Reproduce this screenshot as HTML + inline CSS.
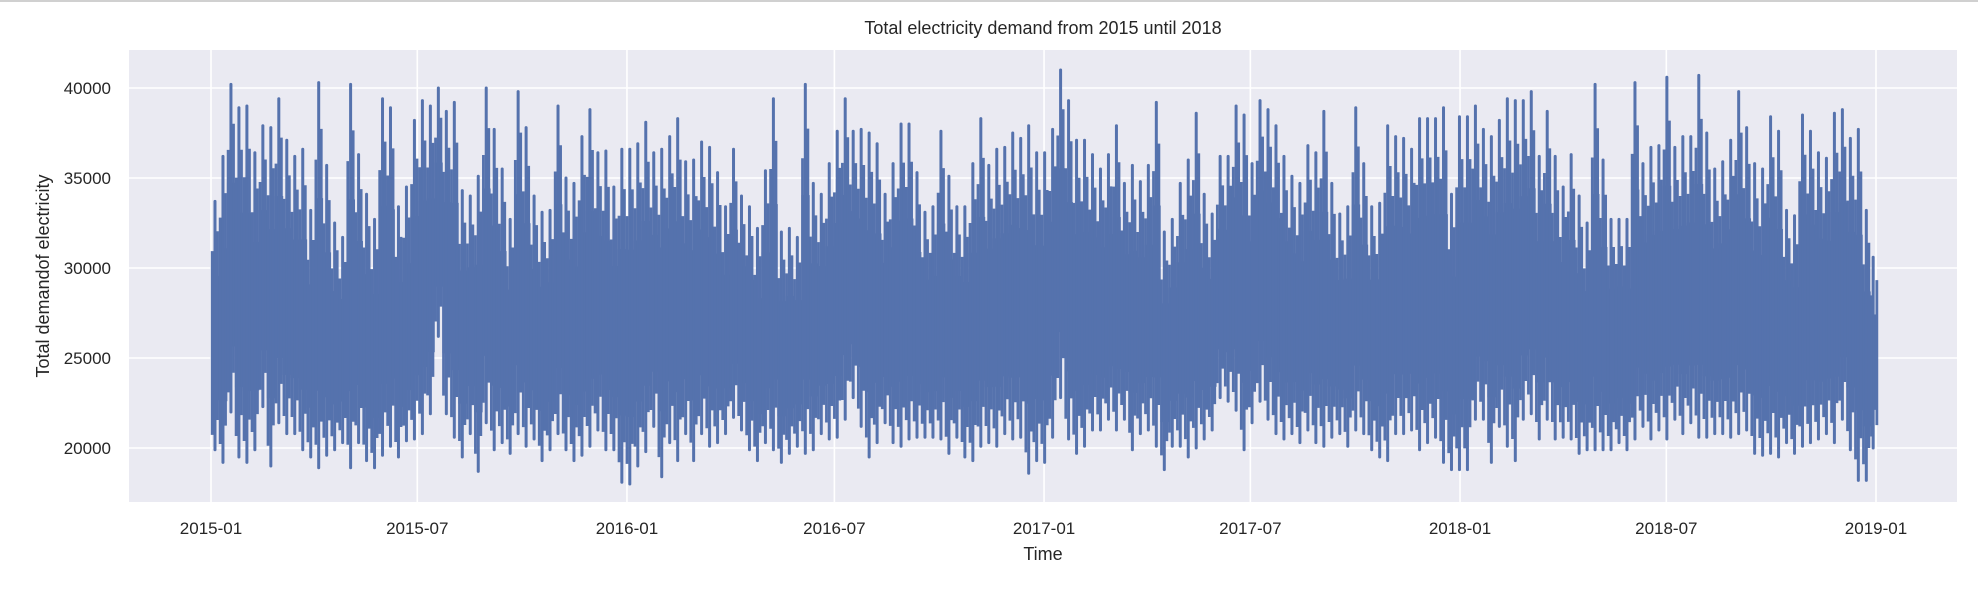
<!DOCTYPE html>
<html><head><meta charset="utf-8">
<style>
html,body{margin:0;padding:0;background:#fff;}
body{width:1978px;height:592px;overflow:hidden;font-family:"Liberation Sans","DejaVu Sans",sans-serif;}
</style></head>
<body>
<div style="position:absolute;left:0;top:0;width:1978px;height:2px;background:#d0d0d0"></div>
<svg id="chart" width="1978" height="592" xmlns="http://www.w3.org/2000/svg" style="position:absolute;left:0;top:0">
</svg>
<script>
const yTicks = [20000, 25000, 30000, 35000, 40000];
const xTickLabels = ["2015-01","2015-07","2016-01","2016-07","2017-01","2017-07","2018-01","2018-07","2019-01"];
const weeklyHigh = [33700,36200,40200,38900,39000,36400,37900,37800,39400,37100,36200,36600,33200,40300,35700,32500,31700,40200,36300,34100,32700,39400,38900,33400,34500,38200,39300,39000,40000,38700,39200,34300,34000,35100,40000,37700,35500,32700,39800,37800,34000,33100,33200,39000,35000,34700,37300,38800,36400,36500,34500,36600,
36600,36900,38100,36400,36600,37300,38300,35900,36000,37000,36700,35300,33400,36600,34000,33400,32200,35400,39400,32000,32200,31700,40200,34700,34100,35800,37600,39400,37600,37700,37500,36900,34100,35800,38000,38000,35300,33100,33400,37600,35100,33400,33400,35800,38300,35700,36600,36700,37500,37200,37900,36400,
36400,37700,41000,39300,37100,37100,36300,35500,36300,37900,34700,35700,34800,35700,39200,32000,32700,34700,36000,38600,34100,33000,36200,36200,39000,38500,35800,39300,38800,37900,36200,35100,34700,36800,36400,38700,34700,33000,33400,38900,35800,33400,33600,37900,37300,37200,36600,38300,38300,38300,38900,34100,38400,
38400,39000,37700,37300,38200,39400,39300,39300,39800,36200,38700,36200,34500,36300,34000,32500,40200,36000,32700,32700,32700,40300,35800,36700,36800,40600,36700,37300,37300,40700,37500,35500,35900,37100,39800,37800,35800,35500,38400,37600,33200,32900,38500,37600,36400,36100,38600,38800,37200,37700,33200,30600];
const weeklyLow = [19900,19200,22000,19500,19200,19900,22300,19000,21400,20800,20800,19900,19500,18900,19600,19900,20300,18900,20300,19300,18900,19600,20100,19500,20400,20500,20800,21900,26200,21900,20600,19500,20800,18700,21400,19900,20300,19700,20800,20100,20500,19300,19900,20800,19900,19300,19600,20100,21000,19900,19900,18100,
18000,19000,19800,21200,18400,20300,19300,20800,19300,20800,20100,20300,20800,21700,21000,19900,19300,20300,19900,19200,19700,20100,19700,19900,20800,20500,20600,21600,22800,21200,19500,20300,21400,20300,20100,20500,20600,20600,20600,20500,19700,20600,19500,19300,20100,20300,20100,20800,20500,20600,18600,19300,
19200,20600,22800,20500,19700,20100,21000,21000,21600,21000,21600,19900,20800,21000,20100,18800,20100,20100,19500,20000,20500,21000,22800,22600,22100,19900,21400,22600,21600,20800,20500,20800,20300,21000,20300,20100,20600,20800,20100,21000,20800,19900,19500,19300,20800,20800,21000,19900,20300,20600,19200,18800,18800,
18800,21600,21600,19200,21200,20100,19300,21600,21900,20500,21600,20500,20600,20500,19700,19900,19900,19900,19900,20300,19900,20500,21200,20500,21000,20500,21600,20800,21400,20600,20600,20800,20800,20600,20800,21000,19700,19600,19700,19500,20300,19700,20100,20300,20500,20800,20300,21600,19900,18200,18200,20000];

const NS = "http://www.w3.org/2000/svg";
const svg = document.getElementById('chart');
const AX = {l:129, r:1957, t:50, b:502};
const day0 = Date.UTC(2015,0,1);
const x0 = 211, pxPerDay = 1665/1461;
function xDay(d){ return x0 + d*pxPerDay; }
function xDate(s){ const [y,m]=s.split('-').map(Number); return xDay((Date.UTC(y,m-1,1)-day0)/86400000); }
function yVal(v){ return 448 - (v-20000)*0.018; }
function mk(tag, attrs){ const e=document.createElementNS(NS,tag); for(const k in attrs) e.setAttribute(k,attrs[k]); svg.appendChild(e); return e; }

const bg = mk('rect',{x:AX.l,y:AX.t,width:AX.r-AX.l,height:AX.b-AX.t,fill:'#eaeaf2'});



yTicks.forEach(v=>{
  const g = mk('line',{x1:AX.l,x2:AX.r,y1:yVal(v),y2:yVal(v),stroke:'#fff','stroke-width':1.6});
  
  
  const t = mk('text',{x:111,y:yVal(v)+6,'text-anchor':'end','font-size':17,fill:'#262626'});
  t.textContent = v;
  
  
});
xTickLabels.forEach(s=>{
  const x = xDate(s);
  const g = mk('line',{x1:x,x2:x,y1:AX.t,y2:AX.b,stroke:'#fff','stroke-width':1.6});
  
  
  const t = mk('text',{x:x,y:534,'text-anchor':'middle','font-size':17,fill:'#262626'});
  t.textContent = s;
  
  
});

const color = '#5572ad';
const wpx = 7*pxPerDay;
const n = weeklyHigh.length;
for(let k=0;k<n;k++){
  const hi = weeklyHigh[k], lo = weeklyLow[k];
  const xs = xDay(7*k);
  const last = (k===n-1);
  const w = last ? Math.max(2, xDay(1461)-xs) : wpx+0.4;
  const cLo = lo + 0.2*(hi-lo), cHi = hi - 0.3*(hi-lo);
  const core = mk('rect',{x:xs,y:yVal(cHi),width:w,height:yVal(cLo)-yVal(cHi),fill:color});
  
  
  const sx = xs + (last ? w/2 : wpx*0.5);
  const sp = mk('line',{x1:sx,x2:sx,y1:yVal(hi),y2:yVal(lo),stroke:color,'stroke-width':3,'stroke-linecap':'round'});
  
  
  [0.15,0.82].forEach((f,j)=>{
    const px = xs + wpx*f;
    const a = mk('line',{x1:px,x2:px,y1:yVal(hi-(j?0.12:0.2)*(hi-lo)),y2:yVal(lo+(j?0.12:0.06)*(hi-lo)),stroke:color,'stroke-width':2.8});
    
    
  });
}

const title = mk('text',{x:1043,y:34,'text-anchor':'middle','font-size':18,fill:'#262626'});
title.textContent = 'Total electricity demand from 2015 until 2018';


const xl = mk('text',{x:1043,y:560,'text-anchor':'middle','font-size':18,fill:'#262626'});
xl.textContent = 'Time';


const yl = mk('text',{x:0,y:0,'text-anchor':'middle','font-size':18,fill:'#262626',transform:'translate(49,276) rotate(-90)'});
yl.textContent = 'Total demandof electricity';


</script>
</body></html>
